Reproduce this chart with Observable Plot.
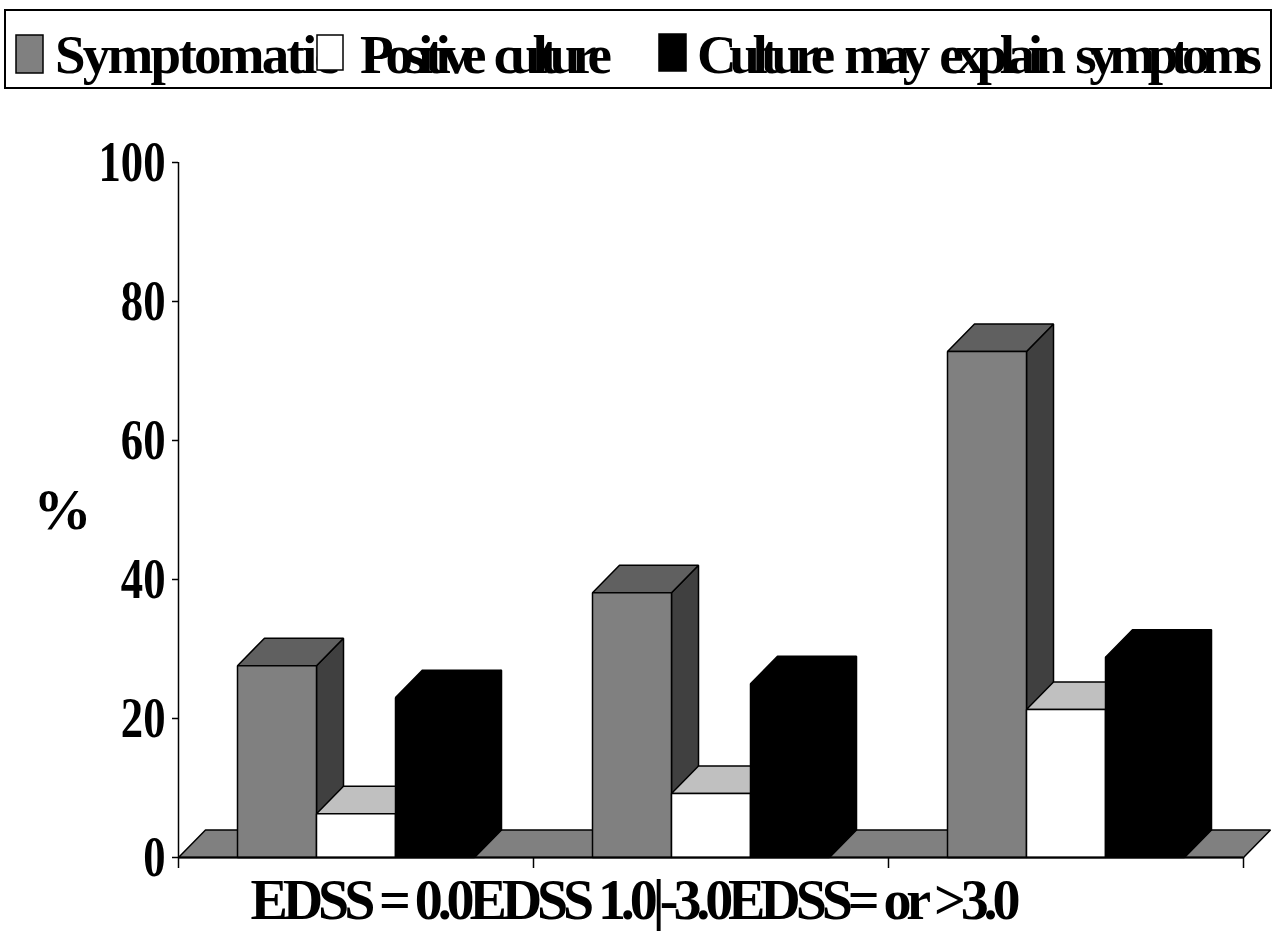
<!DOCTYPE html>
<html>
<head>
<meta charset="utf-8">
<script src="https://cdn.jsdelivr.net/npm/d3@7"></script>
<script src="https://cdn.jsdelivr.net/npm/@observablehq/plot@0.6"></script>
<style>
  html, body { margin: 0; padding: 0; background: #fff; }
  body { width: 1274px; font-family: "Liberation Serif", "Times New Roman", serif; }
  #legend, #chart { display: block; }
</style>
</head>
<body>
<div id="legend"></div>
<div id="chart"></div>
<script>
// ---------------- data ----------------
const categories = ["EDSS = 0.0", "EDSS 1.0|-3.0", "EDSS= or >3.0"];
const seriesNames = ["Symptomatic", "Positive culture", "Culture may explain symptoms"];
const symptomatic = [27.6, 38.1, 72.8];
const positiveCulture = [6.3, 9.2, 21.3];
const cultureExplains = [23.0, 25.0, 28.8];
const yTicks = [0, 20, 40, 60, 80, 100];
const yLabel = "%";

// ---------------- styles ----------------
const frontColors = ["#808080", "#ffffff", "#000000"];
const topColors = ["#606060", "#c0c0c0", "#000000"];
const sideColors = ["#404040", "#a0a0a0", "#000000"];
const floorColor = "#808080";
const FONT = "'Liberation Serif', 'Times New Roman', serif";

// geometry (fractions of a category band, depth in data units)
const GAP = 59 / 355, BARW = 79 / 355;
const DX = 27 / 355, DY = 27.5 / 6.95;

const seriesValues = [symptomatic, positiveCulture, cultureExplains];

// ---------------- faces ----------------
const sides = [], tops = [], fronts = [];
categories.forEach((c, i) => {
  seriesValues.forEach((vals, s) => {
    const v = vals[i];
    const x0 = i + GAP + s * BARW, x1 = x0 + BARW;
    const id = i + "-" + s;
    [[x0, 0], [x1, 0], [x1, v], [x0, v]].forEach(([x, y]) => fronts.push({id, x, y, fill: frontColors[s]}));
    [[x0, v], [x1, v], [x1 + DX, v + DY], [x0 + DX, v + DY]].forEach(([x, y]) => tops.push({id, x, y, fill: topColors[s]}));
    [[x1, 0], [x1 + DX, DY], [x1 + DX, v + DY], [x1, v]].forEach(([x, y]) => sides.push({id, x, y, fill: sideColors[s]}));
  });
});
const n = categories.length;
const floor = [[0, 0], [n, 0], [n + DX, DY], [DX, DY]].map(([x, y]) => ({id: "floor", x, y, fill: floorColor}));

const faceOpts = {x: "x", y: "y", z: "id", fill: "fill", stroke: "black", strokeWidth: 1.5, strokeLinejoin: "miter", curve: "linear-closed"};

const chart = Plot.plot({
  width: 1274,
  height: 842,
  marginTop: 62,
  marginLeft: 178,
  marginRight: 31,
  marginBottom: 85,
  style: {fontFamily: FONT, fontWeight: "bold", fontSize: "58px", color: "black", background: "white", overflow: "visible"},
  x: {domain: [0, n], axis: null},
  y: {domain: [0, 100], axis: null},
  color: {type: "identity"},
  marks: [
    Plot.line(floor, faceOpts),
    Plot.line(sides, faceOpts),
    Plot.line(tops, faceOpts),
    Plot.line(fronts, faceOpts),
    Plot.ruleY([0], {stroke: "black", strokeWidth: 2}),
    Plot.ruleX([0], {y1: 0, y2: 100, stroke: "black", strokeWidth: 1.5}),
    Plot.axisX(d3.range(n + 1), {tickSize: 11, tickFormat: () => "", stroke: "black", strokeWidth: 1.5, label: null}),
    Plot.axisY(yTicks, {tickSize: 6, tickPadding: 7, strokeWidth: 1.5, fontSize: 58, fontWeight: "bold", fontFamily: FONT, label: null, className: "yticks"}),
    Plot.text([yLabel], {text: d => d, frameAnchor: "left", dx: -116, textAnchor: "middle", fontSize: 58, fontWeight: "bold", fontFamily: FONT}),
    Plot.text([categories.join("")], {text: d => d, frameAnchor: "bottom-left", textAnchor: "start", dx: 72, dy: 61, fontSize: 56, fontWeight: "bold", fontFamily: FONT, className: "xlabels"})
  ]
});
document.getElementById("chart").appendChild(chart);

// condensed lettering like the reference
d3.select(chart).selectAll(".yticks text").each(function() {
  const w = this.getComputedTextLength();
  if (w > 0) { this.setAttribute("textLength", (w * 0.77).toFixed(1)); this.setAttribute("lengthAdjust", "spacingAndGlyphs"); }
});
d3.select(chart).selectAll(".xlabels text").attr("textLength", 770).attr("lengthAdjust", "spacing");

// ---------------- legend ----------------
const legend = d3.select("#legend").append("svg")
  .attr("width", 1274).attr("height", 100)
  .style("display", "block")
  .style("font-family", FONT).style("font-weight", "bold").style("font-size", "55px");
legend.append("rect").attr("x", 5).attr("y", 10).attr("width", 1266).attr("height", 78)
  .attr("fill", "white").attr("stroke", "black").attr("stroke-width", 2);
const legendItems = [
  {swatch: [16, 35, 27, 38], textX: 55, textLen: 284},
  {swatch: [317, 35, 26, 35], textX: 360, textLen: 252},
  {swatch: [659, 34, 27, 37], textX: 697, textLen: 565}
];
// texts first, then swatches on top (as in the reference)
seriesNames.forEach((name, s) => {
  legend.append("text").attr("x", legendItems[s].textX).attr("y", 73)
    .attr("textLength", legendItems[s].textLen).attr("lengthAdjust", "spacing")
    .style("word-spacing", "10px")
    .text(name);
});
seriesNames.forEach((name, s) => {
  const [x, y, w, h] = legendItems[s].swatch;
  legend.append("rect").attr("x", x).attr("y", y).attr("width", w).attr("height", h)
    .attr("fill", frontColors[s]).attr("stroke", "black").attr("stroke-width", 1.5);
});
</script>
</body>
</html>
